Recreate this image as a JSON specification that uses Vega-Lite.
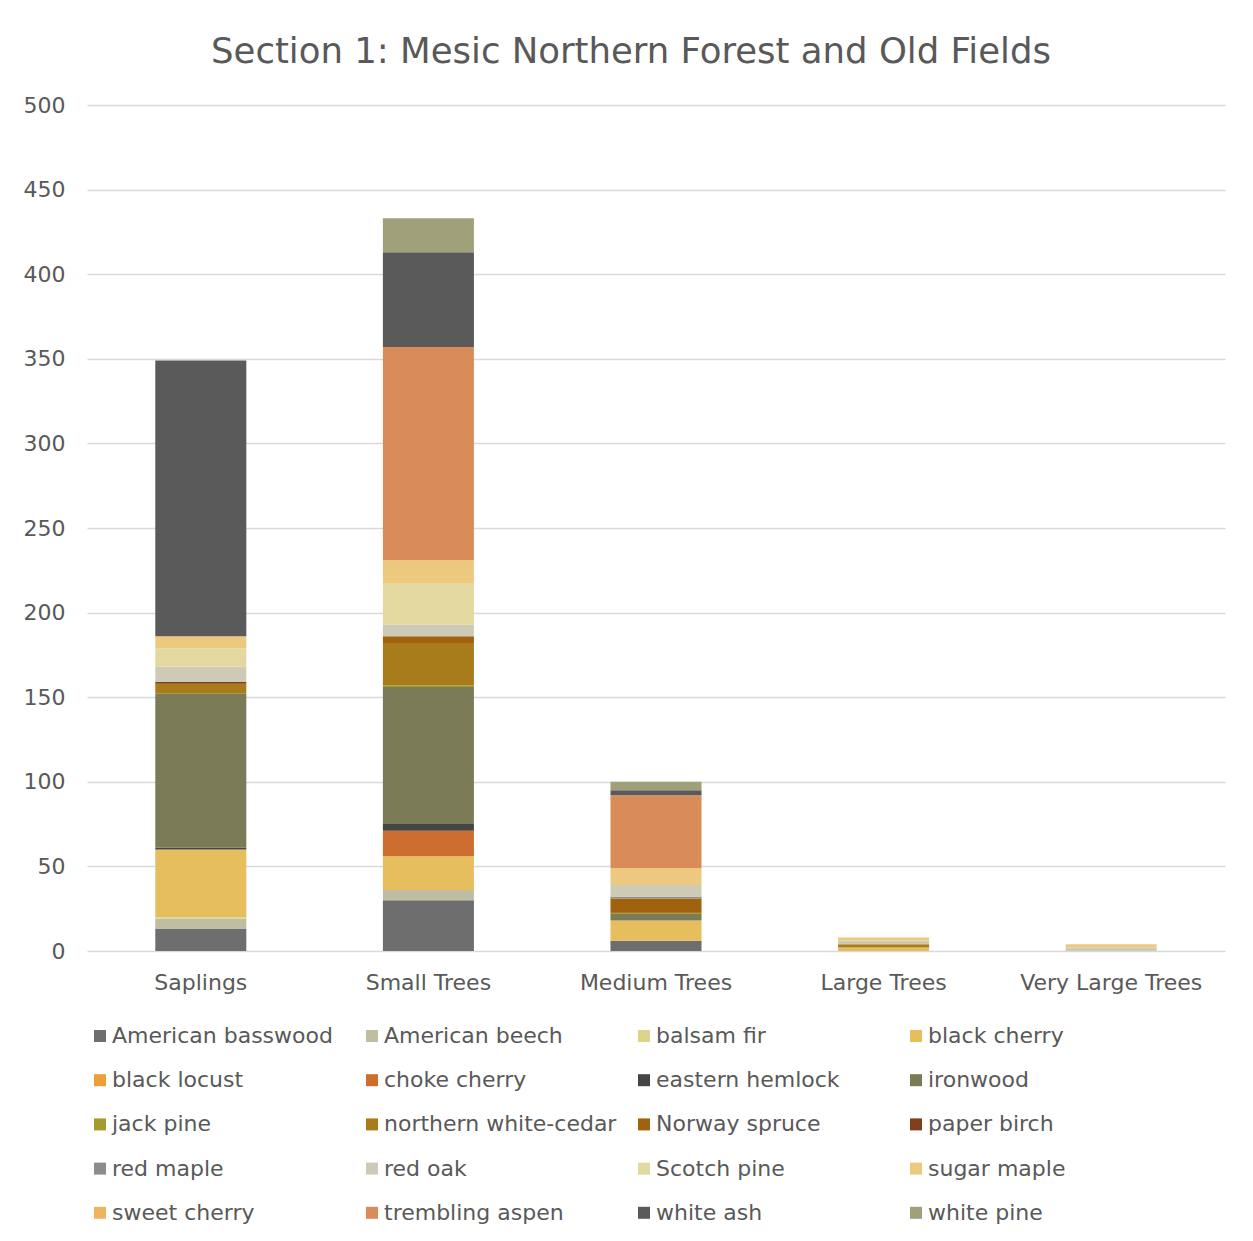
{
  "$schema": "https://vega.github.io/schema/vega-lite/v6.json",
  "autosize": {"type": "none"},
  "width": 1138,
  "height": 846,
  "padding": {"left": 87, "top": 105, "right": 28, "bottom": 290},
  "background": "#ffffff",
  "title": {
    "text": "Section 1: Mesic Northern Forest and Old Fields",
    "font": "DejaVu Sans",
    "fontSize": 35.5,
    "fontWeight": "normal",
    "color": "#595959",
    "anchor": "middle",
    "frame": "group",
    "dx": -25,
    "dy": 45,
    "baseline": "alphabetic",
    "offset": 41
  },
  "data": {
    "values": [
      {"size": "Saplings", "species": "American basswood", "count": 13},
      {"size": "Saplings", "species": "American beech", "count": 6},
      {"size": "Saplings", "species": "balsam fir", "count": 1},
      {"size": "Saplings", "species": "black cherry", "count": 40},
      {"size": "Saplings", "species": "eastern hemlock", "count": 1},
      {"size": "Saplings", "species": "ironwood", "count": 91},
      {"size": "Saplings", "species": "northern white-cedar", "count": 6},
      {"size": "Saplings", "species": "paper birch", "count": 1},
      {"size": "Saplings", "species": "red oak", "count": 9},
      {"size": "Saplings", "species": "Scotch pine", "count": 11},
      {"size": "Saplings", "species": "sugar maple", "count": 7},
      {"size": "Saplings", "species": "white ash", "count": 163},

      {"size": "Small Trees", "species": "American basswood", "count": 30},
      {"size": "Small Trees", "species": "American beech", "count": 6},
      {"size": "Small Trees", "species": "black cherry", "count": 20},
      {"size": "Small Trees", "species": "choke cherry", "count": 15},
      {"size": "Small Trees", "species": "eastern hemlock", "count": 4},
      {"size": "Small Trees", "species": "ironwood", "count": 81},
      {"size": "Small Trees", "species": "jack pine", "count": 1},
      {"size": "Small Trees", "species": "northern white-cedar", "count": 25},
      {"size": "Small Trees", "species": "Norway spruce", "count": 4},
      {"size": "Small Trees", "species": "red oak", "count": 7},
      {"size": "Small Trees", "species": "Scotch pine", "count": 24},
      {"size": "Small Trees", "species": "sugar maple", "count": 14},
      {"size": "Small Trees", "species": "trembling aspen", "count": 126},
      {"size": "Small Trees", "species": "white ash", "count": 56},
      {"size": "Small Trees", "species": "white pine", "count": 20},

      {"size": "Medium Trees", "species": "American basswood", "count": 6},
      {"size": "Medium Trees", "species": "black cherry", "count": 12},
      {"size": "Medium Trees", "species": "ironwood", "count": 4},
      {"size": "Medium Trees", "species": "northern white-cedar", "count": 1},
      {"size": "Medium Trees", "species": "Norway spruce", "count": 8},
      {"size": "Medium Trees", "species": "red maple", "count": 1},
      {"size": "Medium Trees", "species": "red oak", "count": 7},
      {"size": "Medium Trees", "species": "sugar maple", "count": 10},
      {"size": "Medium Trees", "species": "trembling aspen", "count": 43},
      {"size": "Medium Trees", "species": "white ash", "count": 3},
      {"size": "Medium Trees", "species": "white pine", "count": 5},

      {"size": "Large Trees", "species": "black cherry", "count": 2},
      {"size": "Large Trees", "species": "northern white-cedar", "count": 2},
      {"size": "Large Trees", "species": "red oak", "count": 2},
      {"size": "Large Trees", "species": "sugar maple", "count": 2},

      {"size": "Very Large Trees", "species": "red oak", "count": 2},
      {"size": "Very Large Trees", "species": "sugar maple", "count": 2}
    ]
  },
  "transform": [
    {"calculate": "lower(datum.species)", "as": "stackKey"}
  ],
  "mark": {"type": "bar"},
  "encoding": {
    "x": {
      "field": "size",
      "type": "nominal",
      "sort": ["Saplings", "Small Trees", "Medium Trees", "Large Trees", "Very Large Trees"],
      "scale": {"paddingInner": 0.6, "paddingOuter": 0.3},
      "axis": {
        "title": null,
        "labelAngle": 0,
        "ticks": false,
        "domain": false,
        "labelPadding": 21,
        "labelLimit": 400,
        "labelFont": "DejaVu Sans",
        "labelFontSize": 22,
        "labelColor": "#595959"
      }
    },
    "y": {
      "field": "count",
      "type": "quantitative",
      "aggregate": "sum",
      "stack": "zero",
      "scale": {"domain": [0, 500], "nice": false},
      "axis": {
        "title": null,
        "values": [0, 50, 100, 150, 200, 250, 300, 350, 400, 450, 500],
        "ticks": false,
        "domain": false,
        "grid": true,
        "gridColor": "#d9d9d9",
        "gridWidth": 1.3,
        "labelPadding": 22,
        "labelFont": "DejaVu Sans",
        "labelFontSize": 22,
        "labelColor": "#595959"
      }
    },
    "order": {"field": "stackKey", "type": "nominal", "sort": "ascending"},
    "color": {
      "field": "species",
      "type": "nominal",
      "scale": {
        "domain": [
          "American basswood", "American beech", "balsam fir", "black cherry",
          "black locust", "choke cherry", "eastern hemlock", "ironwood",
          "jack pine", "northern white-cedar", "Norway spruce", "paper birch",
          "red maple", "red oak", "Scotch pine", "sugar maple",
          "sweet cherry", "trembling aspen", "white ash", "white pine"
        ],
        "range": [
          "#6e6e6e", "#bfbea3", "#ddd38c", "#e6be5e",
          "#eba03a", "#cd6e30", "#454545", "#7b7b57",
          "#a39a30", "#a87c1a", "#a0620f", "#7e3f1a",
          "#8c8c8c", "#cdcbb5", "#e2d8a0", "#ecc97f",
          "#eeb45f", "#d98c5a", "#5a5a5a", "#a0a07a"
        ]
      },
      "legend": {
        "title": null,
        "orient": "none",
        "legendX": 2,
        "legendY": 920,
        "padding": 0,
        "direction": "horizontal",
        "columns": 4,
        "gridAlign": "all",
        "columnPadding": 16,
        "rowPadding": 22.2,
        "symbolType": "square",
        "symbolSize": 144,
        "symbolStrokeWidth": 0,
        "labelOffset": 1,
        "labelFont": "DejaVu Sans",
        "labelFontSize": 22,
        "labelColor": "#595959",
        "labelLimit": 400
      }
    }
  },
  "config": {
    "view": {"stroke": null}
  }
}
